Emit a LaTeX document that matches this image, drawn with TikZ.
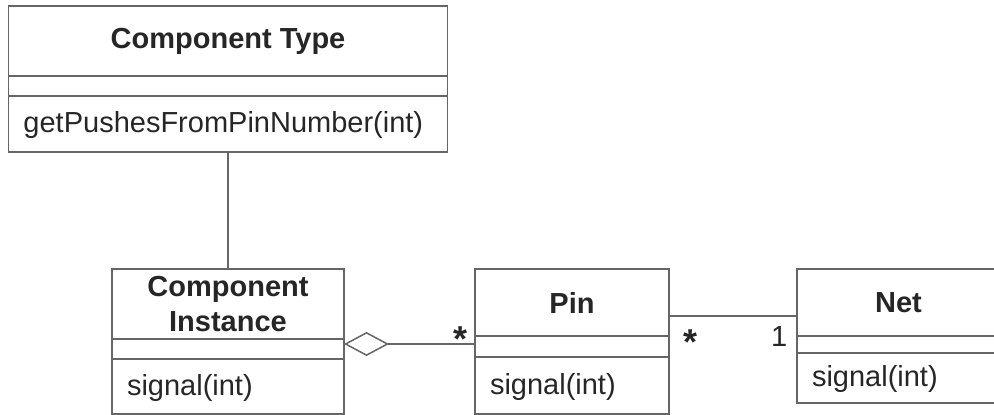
\documentclass[tikz,border=0pt]{standalone}
\usepackage{fontspec}
\setmainfont{Liberation Sans}
\usetikzlibrary{arrows.meta}

\tikzset{
  part/.style={rectangle, draw=black!60, line width=0.75pt, anchor=north west,
    inner sep=0pt, outer sep=0pt, text=black!85, font=\fontsize{14.5}{17.4}\selectfont},
  title/.style={part, align=center, font=\fontsize{14.5}{17.4}\selectfont\bfseries},
  attr/.style={part},
  ops/.style={part, inner xsep=7.5pt, align=left, text height=1.1em, text depth=0.2em},
  link/.style={draw=black!60, line width=0.75pt},
  aggr/.style={link, {Diamond[open, length=22.5pt, width=12pt]}-},
  mult/.style={inner sep=0pt, text=black!85, font=\fontsize{18}{20}\selectfont\bfseries}
}

\begin{document}
\begin{tikzpicture}[x=0.5pt, y=-0.5pt]
  \clip (0,0) rectangle (994,415);
  % component type
  \node[title, minimum width=219.5pt, minimum height=35pt] (typeT) at (8.5,6) {Component Type};
  \node[attr, minimum width=219.5pt, minimum height=10pt] (typeA) at (typeT.south west) {};
  \node[ops, text width=204.5pt, minimum height=28pt] (typeO) at (typeA.south west) {getPushesFromPinNumber(int)};
  % component instance
  \node[title, minimum width=116pt, minimum height=35pt] (instT) at (112,269) {Component\\[0.5pt]Instance};
  \node[attr, minimum width=116pt, minimum height=10pt] (instA) at (instT.south west) {};
  \node[ops, text width=101pt, minimum height=27.5pt] (instO) at (instA.south west) {signal(int)};
  % pin
  \node[title, minimum width=97pt, minimum height=33.5pt] (pinT) at (475,269) {Pin};
  \node[attr, minimum width=97pt, minimum height=10.5pt] (pinA) at (pinT.south west) {};
  \node[ops, text width=82pt, minimum height=28.5pt] (pinO) at (pinA.south west) {signal(int)};
  % net
  \node[title, minimum width=101.5pt, minimum height=33.5pt] (netT) at (797,269) {Net};
  \node[attr, minimum width=101.5pt, minimum height=8.5pt] (netA) at (netT.south west) {};
  \node[ops, text width=86.5pt, minimum height=25pt] (netO) at (netA.south west) {signal(int)};

  \path (typeO) edge[link] (instT);
  \path ([yshift=-2.5pt]instT.south east) edge[aggr]
    node[mult, pos=1, anchor=base east, xshift=-3.5pt, yshift=-4pt] {*}
    ([yshift=-2.5pt]instT.south east -| pinT.west);
  \path ([yshift=10pt]pinT.south east) edge[link]
    node[mult, pos=0, anchor=base west, xshift=7pt, yshift=-19.5pt] {*}
    node[mult, pos=1, anchor=base east, xshift=-4.5pt, yshift=-15.5pt, font=\fontsize{14.5}{17.4}\selectfont] {1}
    ([yshift=10pt]pinT.south east -| netT.west);
\end{tikzpicture}
\end{document}
